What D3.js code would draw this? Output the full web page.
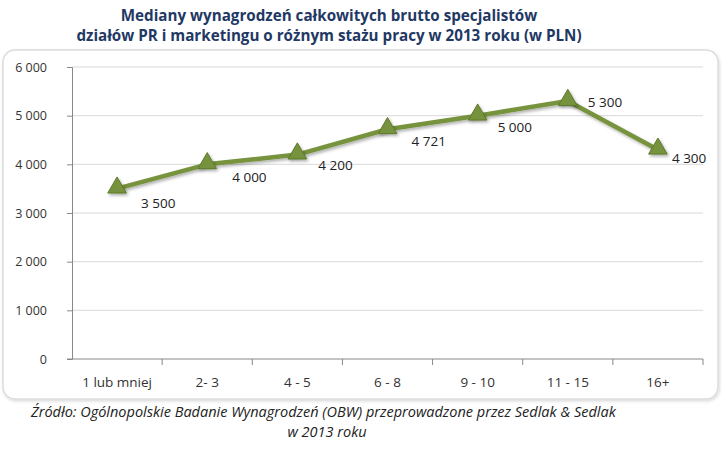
<!DOCTYPE html>
<html>
<head>
<meta charset="utf-8">
<script src="https://cdn.jsdelivr.net/npm/d3@7"></script>
<style>
  body { margin: 0; background: #fff; }
  svg { display: block; }
  .tick text { font-family: "Open Sans", sans-serif; fill: #333; }
</style>
</head>
<body>
<svg id="chart" width="722" height="450"></svg>
<script>
// categories (staż pracy) and median salaries
var categories = ['1 lub mniej', '2- 3', '4 - 5', '6 - 8', '9 - 10', '11 - 15', '16+'];
var medians = [3500, 4000, 4200, 4721, 5000, 5300, 4300];
var yTicks = [0, 1000, 2000, 3000, 4000, 5000, 6000];
var titleLines = ['Mediany wynagrodzeń całkowitych brutto specjalistów',
                  'działów PR i marketingu o różnym stażu pracy w 2013 roku (w PLN)'];
var sourceLines = ['Źródło: Ogólnopolskie Badanie Wynagrodzeń (OBW) przeprowadzone przez Sedlak & Sedlak',
                   'w 2013 roku'];

// label nudges relative to each point (px), like hand-placed Excel labels
var labelShift = [[24, 15], [25, 13], [21, 11], [24, 12], [20, 12], [20, 1], [14, 9]];

var svg = d3.select('#chart'),
    margin = {left: 72, right: 19, top: 67, bottom: 91},
    width = 722 - margin.left - margin.right,
    height = 450 - margin.top - margin.bottom;

var fmt = function (v) { return d3.format(',')(v).replace(/,/g, ' '); };

var defs = svg.append('defs');
var sh = defs.append('filter').attr('id', 'shadow').attr('x', '-50%').attr('y', '-50%')
    .attr('width', '200%').attr('height', '200%');
sh.append('feDropShadow').attr('dx', 1.5).attr('dy', 2).attr('stdDeviation', 1.5)
    .attr('flood-color', '#000').attr('flood-opacity', 0.3);
var bsh = defs.append('filter').attr('id', 'boxshadow').attr('x', '-5%').attr('y', '-5%')
    .attr('width', '110%').attr('height', '110%');
bsh.append('feDropShadow').attr('dx', 1).attr('dy', 1.5).attr('stdDeviation', 1.5)
    .attr('flood-color', '#000').attr('flood-opacity', 0.15);

// chart frame
svg.append('rect')
    .attr('x', 3).attr('y', 50).attr('width', 715).attr('height', 349)
    .attr('rx', 12).attr('ry', 12)
    .attr('fill', '#fff').attr('stroke', '#dcdcdc').attr('stroke-width', 1.5)
    .attr('filter', 'url(#boxshadow)');

// title
svg.append('g').selectAll('text').data(titleLines).enter().append('text')
    .attr('x', 329).attr('y', function (d, i) { return 21 + i * 19.5; })
    .attr('text-anchor', 'middle')
    .style('font-family', '"Open Sans", sans-serif').style('font-size', '15.2px')
    .style('font-weight', 'bold').style('fill', '#1f3864')
    .text(function (d) { return d; });

var g = svg.append('g').attr('transform', 'translate(' + margin.left + ',' + margin.top + ')');

var x = d3.scaleBand().domain(categories).range([0, width]);
var y = d3.scaleLinear().domain([0, 6000]).range([height, 0]);

// gridlines
g.append('g').selectAll('line').data(yTicks.slice(1)).enter().append('line')
    .attr('x1', 0).attr('x2', width)
    .attr('y1', function (d) { return y(d); }).attr('y2', function (d) { return y(d); })
    .attr('stroke', '#d9d9d9').attr('stroke-width', 1);

var yAxis = g.append('g')
    .call(d3.axisLeft(y).tickValues(yTicks).tickFormat(fmt).tickSize(5).tickPadding(20));
yAxis.select('.domain').attr('stroke', '#888');
yAxis.selectAll('.tick line').attr('stroke', '#888');
yAxis.selectAll('.tick text').style('font-size', '12.5px');

var xAxis = g.append('g').attr('transform', 'translate(0,' + height + ')')
    .call(d3.axisBottom(x).tickSize(6).tickPadding(12).tickSizeOuter(0));
xAxis.select('.domain').attr('stroke', '#888').attr('d', 'M-5,0H' + width);
xAxis.selectAll('.tick line').attr('stroke', '#888')
    .attr('transform', 'translate(' + (x.bandwidth() / 2) + ',0)');
xAxis.selectAll('.tick text').style('font-size', '13.5px');

// line
var cx = function (d, i) { return x(categories[i]) + x.bandwidth() / 2; };
var line = d3.line().x(cx).y(function (d) { return y(d); });

g.append('path').datum(medians)
    .attr('d', line)
    .attr('fill', 'none').attr('stroke', '#77933c').attr('stroke-width', 4.5)
    .attr('stroke-linejoin', 'round')
    .attr('filter', 'url(#shadow)');

// triangle markers
var tri = d3.symbol().type(d3.symbolTriangle).size(150);
g.append('g').selectAll('path').data(medians).enter().append('path')
    .attr('d', tri)
    .attr('transform', function (d, i) { return 'translate(' + cx(d, i) + ',' + (y(d) - 1) + ')'; })
    .attr('fill', '#76923c').attr('stroke', '#5e7a2a').attr('stroke-width', 1)
    .attr('filter', 'url(#shadow)');

// value labels
g.append('g').selectAll('text').data(medians).enter().append('text')
    .attr('x', function (d, i) { return cx(d, i) + labelShift[i][0]; })
    .attr('y', function (d, i) { return y(d) + labelShift[i][1]; })
    .attr('dy', '0.35em')
    .style('font-family', '"Open Sans", sans-serif').style('font-size', '13.5px').style('fill', '#222')
    .text(fmt);

// source note
svg.append('g').selectAll('text').data(sourceLines).enter().append('text')
    .attr('x', function (d, i) { return i === 0 ? 31 : 327; })
    .attr('y', function (d, i) { return 417 + i * 20; })
    .attr('text-anchor', function (d, i) { return i === 0 ? 'start' : 'middle'; })
    .style('font-family', '"Open Sans", sans-serif').style('font-size', '14.5px')
    .style('font-style', 'italic').style('fill', '#222')
    .text(function (d) { return d; });
</script>
</body>
</html>
